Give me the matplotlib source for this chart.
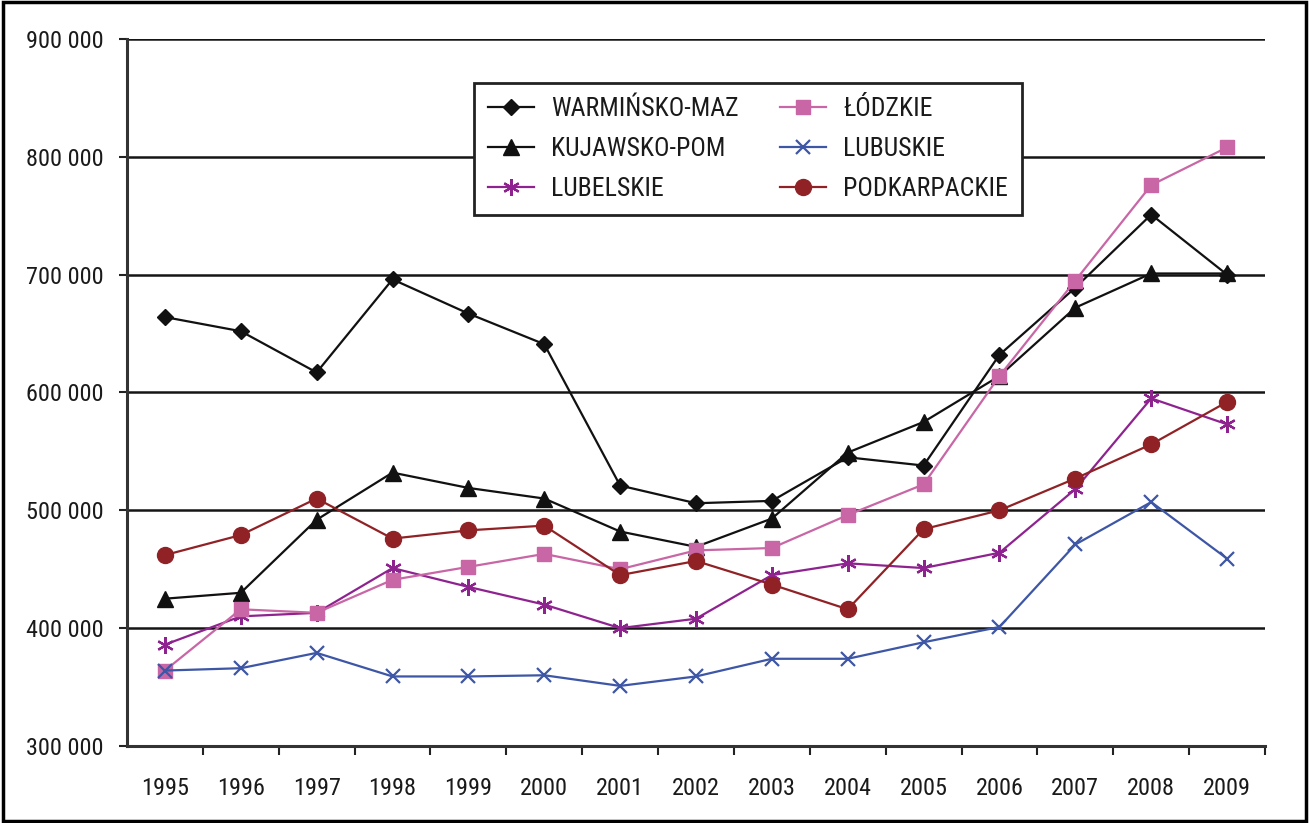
import matplotlib
matplotlib.use("Agg")
import matplotlib.pyplot as plt
from matplotlib import font_manager
from matplotlib.patches import Rectangle
from matplotlib.ticker import FixedLocator, FuncFormatter

years = ["1995", "1996", "1997", "1998", "1999", "2000", "2001", "2002",
         "2003", "2004", "2005", "2006", "2007", "2008", "2009"]

warminsko_maz = [664000, 652000, 617000, 696000, 667000, 641000, 521000, 506000,
                 508000, 545000, 538000, 632000, 689000, 751000, 700000]
kujawsko_pom = [425000, 430000, 492000, 532000, 519000, 510000, 482000, 469000,
                493000, 549000, 575000, 614000, 672000, 701000, 701000]
lubelskie = [386000, 410000, 413000, 451000, 435000, 420000, 400000, 408000,
             445000, 455000, 451000, 464000, 518000, 595000, 573000]
lodzkie = [364000, 416000, 413000, 441000, 452000, 463000, 450000, 466000,
           468000, 496000, 522000, 614000, 695000, 776000, 808000]
lubuskie = [364000, 366000, 379000, 359000, 359000, 360000, 351000, 359000,
            374000, 374000, 388000, 401000, 471000, 507000, 459000]
podkarpackie = [462000, 479000, 510000, 476000, 483000, 487000, 445000, 457000,
                437000, 416000, 484000, 500000, 527000, 556000, 592000]

y_ticks = [300000, 400000, 500000, 600000, 700000, 800000, 900000]

installed = {f.name for f in font_manager.fontManager.ttflist}
narrow = [n for n in ("Liberation Sans Narrow", "Roboto Condensed", "DejaVu Sans Condensed")
          if n in installed]
family = narrow[:1] if narrow else ["Liberation Sans"]
plt.rcParams["font.family"] = family + ["DejaVu Sans"]

fig = plt.figure(figsize=(13.09, 8.23), dpi=100)
ax = fig.add_axes([0.097, 0.0936, 0.8694, 0.859])

x = list(range(len(years)))
asterisk = (6, 2, 0)
series = [
    ("WARMIŃSKO-MAZ", warminsko_maz, "#111111", "D", 8.5),
    ("KUJAWSKO-POM", kujawsko_pom, "#111111", "^", 11.5),
    ("LUBELSKIE", lubelskie, "#8e2390", asterisk, 12),
    ("ŁÓDZKIE", lodzkie, "#c866a6", "s", 10.5),
    ("LUBUSKIE", lubuskie, "#3d56a6", "x", 10.5),
    ("PODKARPACKIE", podkarpackie, "#902226", "o", 11.5),
]

for name, vals, col, mk, ms in series:
    kw = dict(markerfacecolor=col, markeredgecolor=col)
    if mk == "x" or mk == asterisk:
        kw["markeredgewidth"] = 1.6
    ax.plot(x, vals, color=col, linewidth=1.6, marker=mk, markersize=ms,
            label=name, zorder=3, **kw)

ax.set_xlim(-0.5, len(years) - 0.5)
ax.set_ylim(300000, 900000)

ax.yaxis.set_major_locator(FixedLocator(y_ticks))
ax.yaxis.set_major_formatter(FuncFormatter(lambda v, p: f"{int(v):,}".replace(",", " ")))
ax.grid(axis="y", color="#151515", linewidth=1.8, zorder=1)

# category boundaries carry the ticks, category centres carry the labels
ax.set_xticks([i + 0.5 for i in range(len(years))])
ax.set_xticklabels([])
ax.set_xticks(x, minor=True)
ax.set_xticklabels(years, minor=True)
ax.tick_params(axis="x", which="major", direction="out", length=6.5, width=1.5, color="#222222")
ax.tick_params(axis="x", which="minor", length=0, pad=22, labelsize=17.5, labelcolor="#1a1a1a")
ax.tick_params(axis="y", direction="out", length=6, width=1.5, color="#222222",
               pad=11, labelsize=17.5, labelcolor="#1a1a1a")

for s in ("top", "right"):
    ax.spines[s].set_visible(False)
for s in ("left", "bottom"):
    ax.spines[s].set_linewidth(2.2)
    ax.spines[s].set_color("#333333")

leg = ax.legend(ncol=2, loc="upper left", bbox_to_anchor=(0.305, 0.9378),
                frameon=True, fancybox=False, shadow=False, fontsize=18.5,
                handlelength=1.8, handletextpad=0.66, columnspacing=1.6,
                labelspacing=0.62, borderpad=0.55, borderaxespad=0)
leg.get_frame().set_edgecolor("#222222")
leg.get_frame().set_linewidth(2.0)
leg.get_frame().set_facecolor("white")
leg.get_frame().set_alpha(1.0)
leg.set_zorder(5)
for t in leg.get_texts():
    t.set_color("#1a1a1a")

fig.patches.append(Rectangle((0.002, 0.003), 0.996, 0.994, transform=fig.transFigure,
                             fill=False, edgecolor="black", linewidth=2.5))

fig.savefig("out.png", dpi=100)
